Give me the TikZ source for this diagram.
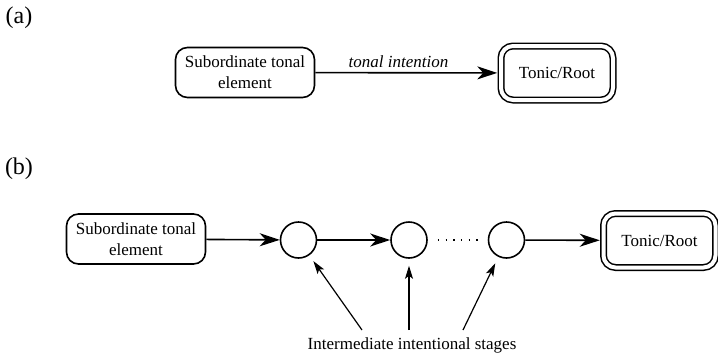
\documentclass[tikz,border=0pt]{standalone}
\usepackage{fontspec}
\setmainfont{Liberation Serif}
\usetikzlibrary{arrows.meta}

\begin{document}
\begin{tikzpicture}[x=1pt,y=-1pt]
  \tikzset{ElementStyle/.style = {draw=black,line width=1.6pt,rounded corners=12pt,align=center,
                                  minimum width=139pt,minimum height=50pt,inner sep=0pt,
                                  font=\fontsize{17}{21}\selectfont}}
  \tikzset{TonicStyle/.style = {draw=black,double=white,double distance=4pt,line width=1.5pt,
                                rounded corners=12pt,minimum width=112pt,minimum height=54pt,
                                inner sep=0pt,font=\fontsize{17}{21}\selectfont}}
  \tikzset{StageStyle/.style = {draw=black,shape=circle,line width=1.6pt,minimum size=36pt,inner sep=0pt}}
  \tikzset{EdgeStyle/.style = {line width=1.6pt,-{Stealth[length=20pt,width=13pt,inset=6pt]}}}
  \tikzset{PointStyle/.style = {line width=1.2pt,-{Stealth[length=13pt,width=8pt,inset=3pt]},shorten >=7pt}}
  \tikzset{PartStyle/.style = {font=\fontsize{24}{28}\selectfont}}
  \useasboundingbox (0,0) rectangle (718,354);
  % part a
  \node[PartStyle] (part_a) at (19,18) {(a)};
  \node[ElementStyle] (sub_a) at (245,72.5) {Subordinate tonal\\element};
  \node[TonicStyle] (ton_a) at (557,73) {Tonic/Root};
  \draw[EdgeStyle,shorten >=3pt] (sub_a) -- node[pos=0.45,above=1pt,font=\fontsize{17}{21}\selectfont\itshape]{tonal intention} (ton_a);
  % part b
  \node[PartStyle] (part_b) at (19,169) {(b)};
  \node[ElementStyle] (sub_b) at (136,239) {Subordinate tonal\\element};
  \node[StageStyle] (st_1) at (298.5,240) {};
  \node[StageStyle] (st_2) at (409,240) {};
  \node[StageStyle] (st_3) at (506.5,240) {};
  \node[TonicStyle] (ton_b) at (659.5,240.5) {Tonic/Root};
  \draw[EdgeStyle] (sub_b) -- (st_1);
  \draw[EdgeStyle] (st_1) -- (st_2);
  \draw[line width=1.3pt,dash pattern=on 1.3pt off 6.4pt,shorten <=10pt,shorten >=9pt] (st_2) -- (st_3);
  \draw[EdgeStyle,shorten >=3pt] (st_3) -- (ton_b);
  % stages
  \node[font=\fontsize{17}{21}\selectfont] (stages) at (412,345) {Intermediate intentional stages};
  \coordinate (from_1) at (362,330);
  \coordinate (from_2) at (409,330);
  \coordinate (from_3) at (463,330);
  \draw[PointStyle] (from_1) -- (st_1);
  \draw[PointStyle] (from_2) -- (st_2);
  \draw[PointStyle] (from_3) -- (st_3);
\end{tikzpicture}
\end{document}
